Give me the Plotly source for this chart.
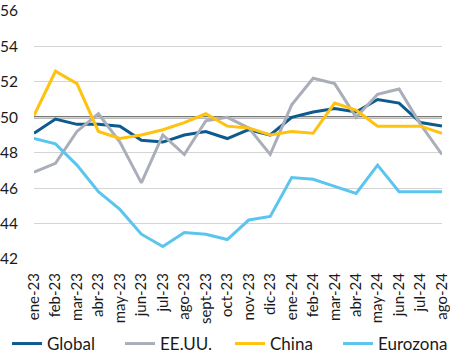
import plotly.graph_objects as go

months = ["ene-23", "feb-23", "mar-23", "abr-23", "may-23", "jun-23", "jul-23", "ago-23",
          "sept-23", "oct-23", "nov-23", "dic-23", "ene-24", "feb-24", "mar-24", "abr-24",
          "may-24", "jun-24", "jul-24", "ago-24"]
global_pmi = [49.1, 49.9, 49.6, 49.6, 49.5, 48.7, 48.6, 49.0, 49.2, 48.8, 49.3, 49.0,
              50.0, 50.3, 50.5, 50.3, 51.0, 50.8, 49.7, 49.5]
eeuu = [46.9, 47.4, 49.2, 50.2, 48.6, 46.3, 49.0, 47.9, 49.8, 50.0, 49.4, 47.9,
        50.7, 52.2, 51.9, 50.0, 51.3, 51.6, 49.6, 47.9]
china = [50.1, 52.6, 51.9, 49.2, 48.8, 49.0, 49.3, 49.7, 50.2, 49.5, 49.4, 49.0,
         49.2, 49.1, 50.8, 50.4, 49.5, 49.5, 49.5, 49.1]
eurozona = [48.8, 48.5, 47.3, 45.8, 44.8, 43.4, 42.7, 43.5, 43.4, 43.1, 44.2, 44.4,
            46.6, 46.5, 46.1, 45.7, 47.3, 45.8, 45.8, 45.8]
y_ticks = [42, 44, 46, 48, 50, 52, 54, 56]

series = [
    ("Global", global_pmi, "#0e5a8f"),
    ("EE.UU.", eeuu, "#a9aeb9"),
    ("China", china, "#ffc20e"),
    ("Eurozona", eurozona, "#5bc5ee"),
]

L, R, T, B, W, H = 34, 8, 11, 94, 450, 353
PW = W - L - R
PH = H - T - B
legend_px = [7, 120, 230, 338]    # left pixel of each legend entry
legend_cy = 344                   # vertical centre of legend row, px from top
legend_names = ["legend", "legend2", "legend3", "legend4"]

font = dict(family="Lato, 'Open Sans', sans-serif", color="#1a1a1a")

fig = go.Figure()
for (name, vals, color), lg in zip(series, legend_names):
    fig.add_trace(go.Scatter(x=months, y=vals, name=name, mode="lines",
                             line=dict(color=color, width=3), cliponaxis=False,
                             legend=lg))

fig.add_shape(type="line", xref="paper", yref="y", x0=0, x1=1, y0=50, y1=50,
              line=dict(color="#777777", width=2.5), layer="below")

legend_layout = {}
for lg, px in zip(legend_names, legend_px):
    legend_layout[lg] = dict(orientation="h", x=(px - L) / PW, xanchor="left",
                             y=((H - B) - legend_cy) / PH, yanchor="middle",
                             font=dict(**font, size=17),
                             itemwidth=30, bgcolor="rgba(0,0,0,0)", borderwidth=0)

fig.update_layout(
    width=W, height=H,
    margin=dict(l=L, r=R, t=T, b=B, autoexpand=False),
    paper_bgcolor="white", plot_bgcolor="white",
    font=dict(**font, size=15),
    showlegend=True,
    xaxis=dict(type="category", range=[0, 19], showgrid=False, zeroline=False,
               showline=False, tickangle=-90, ticks="outside", ticklen=7,
               tickcolor="rgba(0,0,0,0)", tickfont=dict(**font, size=15),
               automargin=False),
    yaxis=dict(range=[42, 56], tickvals=y_ticks, showgrid=True, gridcolor="#d4d4d4",
               gridwidth=1, zeroline=False, showline=False, ticks="outside", ticklen=12,
               tickcolor="rgba(0,0,0,0)", tickfont=dict(**font, size=15.5),
               automargin=False),
    **legend_layout,
)

fig.write_html("out.html")
